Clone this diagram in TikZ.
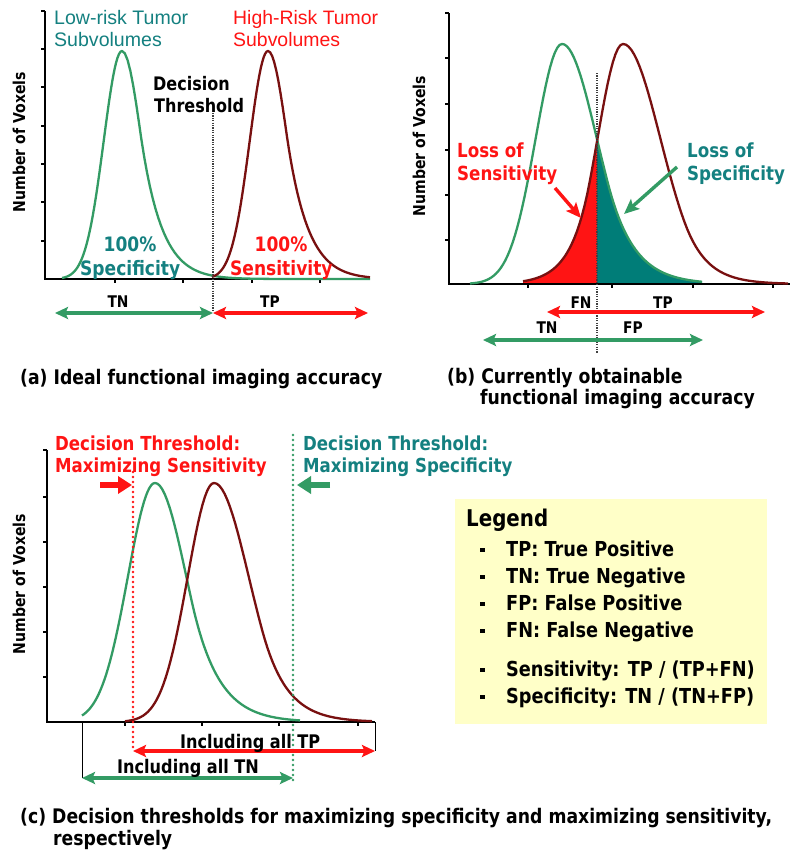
\documentclass[tikz,border=0pt]{standalone}
\usepackage{fontspec}
\setmainfont{DejaVu Sans}[FakeStretch=0.86]
\newfontfamily\arialf{Liberation Sans}
\usetikzlibrary{arrows.meta}
\definecolor{cgreen}{RGB}{51,155,100}
\definecolor{cteal}{RGB}{20,128,128}
\definecolor{cred}{RGB}{255,20,20}
\definecolor{cmaroon}{RGB}{120,16,16}
\definecolor{cfill}{RGB}{0,125,120}
\definecolor{cyellow}{RGB}{255,255,200}
\newlength\fitlen
\newcommand\fitset[2]{\settowidth\fitlen{\fontsize{10pt}{12pt}\selectfont #2}\pgfmathsetmacro\fitsz{10*#1/\fitlen}\fontsize{\fitsz pt}{\fitsz pt}\selectfont}
% bell side: #1 offset, #2 half width, #3 start of exponential tail (in half widths)
\newcommand\bell[3]{exp(-0.6931*((#1)/#2*(#1)/#2-0.95*max(abs(#1)/#2-#3,0)*max(abs(#1)/#2-#3,0)))}
\tikzset{
 axisl/.style={line width=1.6pt, black},
 axtick/.style={line width=1.1pt, black},
 gcurve/.style={cgreen, line width=2.3pt, line join=round},
 rcurve/.style={cmaroon, line width=2.3pt, line join=round},
 thr/.style={black!75, line width=1.2pt, dash pattern=on 1.2pt off 1.2pt},
 dhead/.tip={Stealth[length=13pt,width=12pt,inset=2.5pt]},
 garrow/.style={cgreen, line width=3.2pt, dhead-dhead},
 rarrow/.style={cred, line width=3.2pt, dhead-dhead},
 sarrow/.style={line width=3.4pt, -{Stealth[length=15pt,width=13pt,inset=3pt]}},
 tarrow/.style={line width=5.5pt, -{Triangle[length=14pt,width=17pt]}},
 rdot/.style={cred, line width=2.9pt, line cap=round, dash pattern=on 0pt off 5pt},
 gdot/.style={cgreen, line width=2.9pt, line cap=round, dash pattern=on 0pt off 5pt},
 frame/.style={black, line width=0.9pt},
 lbl/.style={inner sep=0pt, anchor=base west},
 clbl/.style={inner sep=0pt, anchor=base},
 fLow/.style={font={\arialf\fitset{134}{Low-risk Tumor}}},
 fHigh/.style={font={\arialf\fitset{145}{High-Risk Tumor}}},
 fDec/.style={font={\bfseries\fitset{90}{Threshold}}},
 fPct/.style={font={\bfseries\fitset{100}{Specificity}}},
 fAx/.style={font={\bfseries\fitset{140}{Number of Voxels}}},
 fTN/.style={font={\bfseries\fitset{21}{FN}}},
 fCap/.style={font={\bfseries\fitset{362}{(a) Ideal functional imaging accuracy}}},
 fLoss/.style={font={\bfseries\fitset{100}{Sensitivity}}},
 fDT/.style={font={\bfseries\fitset{185}{Decision Threshold:}}},
 fInc/.style={font={\bfseries\fitset{140}{Including all TP}}},
 fLegT/.style={font={\bfseries\fitset{82}{Legend}}},
 fLeg/.style={font={\bfseries\fitset{168}{TP: True Positive}}},
}
\begin{document}
\begin{tikzpicture}[x=1pt,y=-1pt]
\useasboundingbox (0,0) rectangle (800,860);
\fill[white] (0,0) rectangle (800,860);

% ================= Panel (a) =================
\draw[axisl] (45,11) -- (45,279) -- (370,279);
\foreach \yy in {11,49,87,126,164,202,241} \draw[axtick] (41,\yy) -- (45,\yy);
\foreach \xx in {115,183,252,320} \draw[axtick] (\xx,279) -- (\xx,283);
\draw[gcurve] plot[domain=-60:0,samples=40] ({122+\x},{279-228*\bell{\x}{21.5}{100}})
  -- plot[domain=0:248,samples=90] ({122+\x},{279-228*\bell{\x}{23}{0.789}});
\draw[rcurve] plot[domain=-56:0,samples=40] ({268+\x},{279-228*\bell{\x}{21.5}{100}})
  -- plot[domain=0:102,samples=50] ({268+\x},{279-228*\bell{\x}{23}{0.789}});
\draw[thr] (213,113) -- (213,310);
\coordinate (aL) at (55,313);
\coordinate (aM) at (213,313);
\coordinate (aR) at (368,313);
\draw[garrow] (aL) -- (aM);
\draw[rarrow] (aM) -- (aR);
\node[lbl, fLow, text=cteal] (lowA) at (54,24) {Low-risk Tumor};
\node[lbl, fLow, text=cteal] (lowB) at (54,46) {Subvolumes};
\node[lbl, fHigh, text=cred] (highA) at (233,24) {High-Risk Tumor};
\node[lbl, fHigh, text=cred] (highB) at (233,46) {Subvolumes};
\node[lbl, fDec] (decA) at (153,90) {Decision};
\node[lbl, fDec] (decB) at (154,112) {Threshold};
\node[clbl, fPct, text=cteal] (pctA) at (130,251) {100\%};
\node[lbl, fPct, text=cteal] (specA) at (80,275) {Specificity};
\node[clbl, fPct, text=cred] (pctB) at (281,251) {100\%};
\node[lbl, fPct, text=cred] (sensA) at (230,275) {Sensitivity};
\node[clbl, fAx, rotate=90] (yA) at (25,142) {Number of Voxels};
\node[clbl, fTN] (tnA) at (118,307) {TN};
\node[clbl, fTN] (tpA) at (270,307) {TP};
\node[lbl, fCap] (capA) at (20,384) {(a) Ideal functional imaging accuracy};

% ================= Panel (b) =================
\fill[cred] plot[domain=-100:-26,samples=40] ({623+\x},{284-240*\bell{\x}{30}{1.114}}) -- (597,284) -- (523,284) -- cycle;
\fill[cfill] (597,284) -- plot[domain=35:140,samples=50] ({562+\x},{284-240*\bell{\x}{41}{1.135}}) -- (702,284) -- cycle;
\draw[axisl] (449,13) -- (449,284) -- (790,284);
\foreach \yy in {13,58,104,150,195,240} \draw[axtick] (445,\yy) -- (449,\yy);
\foreach \xx in {528,612,693,773} \draw[axtick] (\xx,284) -- (\xx,288);
\draw[gcurve] plot[domain=-92:0,samples=40] ({562+\x},{284-240*\bell{\x}{31}{100}})
  -- plot[domain=0:140,samples=60] ({562+\x},{284-240*\bell{\x}{41}{1.135}});
\draw[rcurve] plot[domain=-100:0,samples=40] ({623+\x},{284-240*\bell{\x}{30}{1.114}})
  -- plot[domain=0:165,samples=60] ({623+\x},{284-240*\bell{\x}{44}{1.408}});
\draw[thr] (597,73) -- (597,353);
\coordinate (bRL) at (547,312);
\coordinate (bRR) at (765,312);
\coordinate (bGL) at (483,340);
\coordinate (bGR) at (703,340);
\draw[rarrow] (bRL) -- (bRR);
\draw[garrow] (bGL) -- (bGR);
\node[clbl, fAx, rotate=90] (yB) at (425,146) {Number of Voxels};
\node[lbl, fLoss, text=cred] (lsA) at (457,157) {Loss of};
\node[lbl, fLoss, text=cred] (lsB) at (457,180) {Sensitivity};
\node[lbl, fLoss, text=cteal] (lpA) at (687,157) {Loss of};
\node[lbl, fLoss, text=cteal] (lpB) at (687,180) {Specificity};
\coordinate (sS) at (555,188);
\coordinate (sE) at (581,218);
\coordinate (pS) at (677,167);
\coordinate (pE) at (624,214);
\draw[sarrow, cred] (sS) -- (sE);
\draw[sarrow, cgreen] (pS) -- (pE);
\node[clbl, fTN] (fnB) at (581,308) {FN};
\node[clbl, fTN] (tpB) at (663,308) {TP};
\node[clbl, fTN] (tnB) at (547,333) {TN};
\node[clbl, fTN] (fpB) at (633,333) {FP};
\node[lbl, fCap] (capB1) at (447,383) {(b) Currently obtainable};
\node[lbl, fCap] (capB2) at (480,404) {functional imaging accuracy};

% ================= Panel (c) =================
\draw[axisl] (47,450) -- (47,722) -- (375,722);
\foreach \yy in {450,497,542,587,632,677} \draw[axtick] (43,\yy) -- (47,\yy);
\foreach \xx in {125,202,279,358} \draw[axtick] (\xx,722) -- (\xx,726);
\draw[gcurve] plot[domain=-73:0,samples=40] ({155+\x},{722-239*\bell{\x}{32}{100}})
  -- plot[domain=0:145,samples=60] ({155+\x},{722-239*\bell{\x}{37}{0.997}});
\draw[rcurve] plot[domain=-89:0,samples=40] ({214+\x},{722-239*\bell{\x}{31}{100}})
  -- plot[domain=0:158,samples=60] ({214+\x},{722-239*\bell{\x}{41}{1.196}});
\draw[frame] (82,722) -- (82,778);
\draw[frame] (375,722) -- (375,751);
\draw[rdot] (133,472) -- (133,750);
\draw[gdot] (293,435) -- (293,780);
\coordinate (cRL) at (133,751);
\coordinate (cRR) at (375,751);
\coordinate (cGL) at (82,778);
\coordinate (cGR) at (293,778);
\draw[rarrow] (cRL) -- (cRR);
\draw[garrow] (cGL) -- (cGR);
\coordinate (tRs) at (100,485);
\coordinate (tRe) at (132,485);
\coordinate (tGs) at (330,485);
\coordinate (tGe) at (297,485);
\draw[tarrow, cred] (tRs) -- (tRe);
\draw[tarrow, cgreen] (tGs) -- (tGe);
\node[lbl, fDT, text=cred] (dtA) at (55,450) {Decision Threshold:};
\node[lbl, fDT, text=cred] (dtB) at (55,472) {Maximizing Sensitivity};
\node[lbl, fDT, text=cteal] (dtC) at (303,450) {Decision Threshold:};
\node[lbl, fDT, text=cteal] (dtD) at (303,472) {Maximizing Specificity};
\node[clbl, fAx, rotate=90] (yC) at (25,584) {Number of Voxels};
\node[lbl, fInc] (incP) at (180,748) {Including all TP};
\node[lbl, fInc] (incN) at (117,773) {Including all TN};
\node[lbl, fCap] (capC1) at (20,823) {(c) Decision thresholds for maximizing specificity and maximizing sensitivity,};
\node[lbl, fCap] (capC2) at (53,845) {respectively};

% ================= Legend =================
\node[fill=cyellow, inner sep=0pt, minimum width=312pt, minimum height=225pt, anchor=north west] (legbox) at (455,499) {};
\node[lbl, fLegT] (legT) at (466,526) {Legend};
\node[lbl, fLeg] (l1) at (506,556) {TP: True Positive};
\node[lbl, fLeg] (l2) at (506,583) {TN: True Negative};
\node[lbl, fLeg] (l3) at (506,610) {FP: False Positive};
\node[lbl, fLeg] (l4) at (506,637) {FN: False Negative};
\node[lbl, fLeg] (l5) at (506,676) {Sensitivity: TP / (TP+FN)};
\node[lbl, fLeg] (l6) at (506,703) {Specificity: TN / (TN+FP)};
\foreach \bb in {556,583,610,637,676,703} \fill (480,\bb-8.5) rectangle +(4.5,4.5);
\end{tikzpicture}
\end{document}
